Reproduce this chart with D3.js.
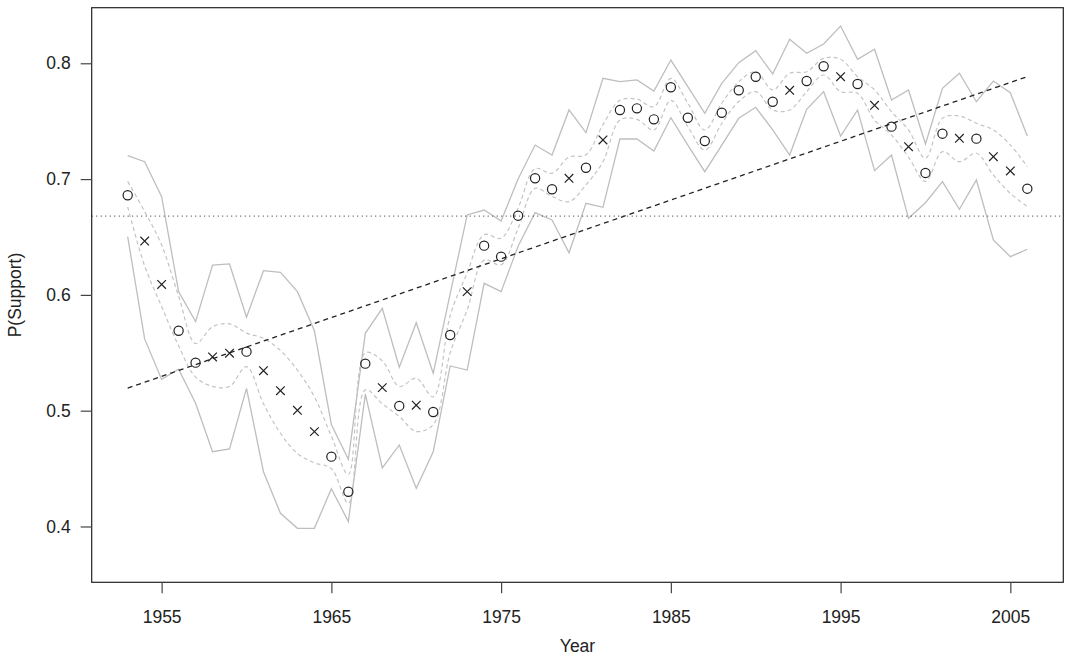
<!DOCTYPE html>
<html>
<head>
<meta charset="utf-8">
<script src="https://cdn.jsdelivr.net/npm/d3@7"></script>
<style>
  html, body { margin: 0; padding: 0; background: #fff; }
  svg { display: block; }
  text { font-family: "Liberation Sans", Arial, Helvetica, sans-serif; fill: #222; }
</style>
</head>
<body>
<svg id="chart" width="1067" height="655"></svg>
<script>
// Survey years
const years = [1953,1954,1955,1956,1957,1958,1959,1960,1961,1962,1963,1964,1965,1966,1967,1968,1969,1970,
  1971,1972,1973,1974,1975,1976,1977,1978,1979,1980,1981,1982,1983,1984,1985,1986,1987,1988,1989,1990,
  1991,1992,1993,1994,1995,1996,1997,1998,1999,2000,2001,2002,2003,2004,2005,2006];

// Point type per year: "o" = observed estimate, "x" = filled-in estimate
const marks = ["o","x","x","o","o","x","x","o","x","x","x","x","o","o","o","x","o","x",
  "o","o","x","o","o","o","o","o","x","o","x","o","o","o","o","o","o","o","o","o",
  "o","x","o","o","x","o","x","o","x","o","o","x","o","x","x","o"];

// Estimated probability of support
const support = [0.686,0.6465,0.609,0.569,0.5415,0.5464,0.5496,0.551,0.5345,0.5173,0.5003,0.4819,0.4603,0.430,
  0.5406,0.5199,0.5041,0.5047,0.4989,0.5654,0.6028,0.6425,0.633,0.6684,0.7007,0.6912,0.7007,0.7098,
  0.7338,0.7597,0.7611,0.7516,0.7793,0.753,0.7329,0.7573,0.7767,0.7884,0.7668,0.7767,0.7847,0.7974,
  0.7884,0.7821,0.7637,0.7453,0.728,0.7053,0.7392,0.7352,0.7349,0.7193,0.707,0.6917];

// Outer interval (solid grey)
const outerUpper = [0.7202,0.715,0.6848,0.6028,0.5769,0.6258,0.6267,0.5807,0.6209,0.6195,0.6028,0.569,0.488,0.458,
  0.5668,0.5884,0.5375,0.576,0.5323,0.601,0.669,0.6733,0.6638,0.700,0.7294,0.7208,0.7597,0.7401,
  0.787,0.7841,0.7856,0.776,0.8028,0.7798,0.7568,0.7827,0.8005,0.8109,0.7908,0.8207,0.8086,0.8167,
  0.8322,0.8035,0.8121,0.7683,0.7769,0.7303,0.7784,0.7914,0.7668,0.7847,0.7746,0.7372];
const outerLower = [0.6503,0.562,0.527,0.5358,0.5064,0.4646,0.4669,0.5193,0.4473,0.4114,0.3984,0.3984,0.4326,0.4042,
  0.5143,0.4505,0.4704,0.433,0.4646,0.5386,0.5351,0.610,0.6028,0.642,0.671,0.6647,0.6364,0.6791,
  0.6756,0.7346,0.7346,0.7243,0.753,0.7294,0.7064,0.7294,0.7525,0.762,0.7424,0.7208,0.7603,0.7755,
  0.7372,0.7597,0.7073,0.7208,0.6661,0.6796,0.6978,0.6739,0.6992,0.6474,0.633,0.6394];

// Inner interval (dashed grey)
const innerUpper = [0.698,0.672,0.643,0.599,0.558,0.5725,0.575,0.567,0.5625,0.552,0.535,0.512,0.478,0.445,
  0.550,0.543,0.521,0.528,0.512,0.582,0.619,0.652,0.649,0.675,0.709,0.705,0.719,0.721,
  0.747,0.768,0.769,0.7625,0.787,0.7655,0.7424,0.7655,0.784,0.7927,0.777,0.7914,0.7927,0.8043,
  0.8035,0.7884,0.777,0.7582,0.7424,0.718,0.7525,0.7545,0.7482,0.7424,0.7294,0.7107];
const innerLower = [0.676,0.625,0.59,0.556,0.529,0.521,0.521,0.538,0.506,0.4805,0.463,0.455,0.450,0.420,
  0.518,0.506,0.495,0.482,0.488,0.550,0.587,0.630,0.626,0.6575,0.692,0.685,0.6805,0.695,
  0.715,0.751,0.7516,0.7424,0.768,0.7453,0.7251,0.748,0.767,0.7755,0.7597,0.7597,0.7755,0.7899,
  0.7755,0.7741,0.751,0.738,0.719,0.698,0.7237,0.715,0.7223,0.7035,0.6877,0.6762];

// Linear trend endpoints (first and last year) and reference level
const trendYears = [1953, 2006];
const trendValues = [0.5195, 0.7885];
const referenceLevel = [0.668];

const xTicks = [1955,1965,1975,1985,1995,2005];
const yTicks = [0.4,0.5,0.6,0.7,0.8];

const svg = d3.select("#chart");
const plot = { left: 91.7, right: 1063.3, top: 7.7, bottom: 582.3 };

const x = d3.scaleLinear().domain([1950.88, 2008.12]).range([plot.left, plot.right]);
const y = d3.scaleLinear().domain([0.3518, 0.848]).range([plot.bottom, plot.top]);

const g = svg.append("g");

const rows = years.map((yr, i) => ({yr, i}));
const polyline = arr => d3.line().x(d => x(d.yr)).y(d => y(arr[d.i]))(rows);
const smooth = arr => d3.line().curve(d3.curveCatmullRom.alpha(0.5)).x(d => x(d.yr)).y(d => y(arr[d.i]))(rows);

// Outer band
[outerUpper, outerLower].forEach(arr => {
  g.append("path").attr("d", polyline(arr))
    .attr("fill", "none").attr("stroke", "#bebebe").attr("stroke-width", 1.3);
});

// Inner band
[innerUpper, innerLower].forEach(arr => {
  g.append("path").attr("d", smooth(arr))
    .attr("fill", "none").attr("stroke", "#c4c4c4").attr("stroke-width", 1.2)
    .attr("stroke-dasharray", "4,3");
});

// Reference level (dotted)
g.append("line")
  .attr("x1", plot.left).attr("x2", plot.right)
  .attr("y1", y(referenceLevel[0])).attr("y2", y(referenceLevel[0]))
  .attr("stroke", "#555").attr("stroke-width", 1.2).attr("stroke-dasharray", "1,3.5");

// Trend line (dashed)
g.append("line")
  .attr("x1", x(trendYears[0])).attr("x2", x(trendYears[1]))
  .attr("y1", y(trendValues[0])).attr("y2", y(trendValues[1]))
  .attr("stroke", "#222").attr("stroke-width", 1.3).attr("stroke-dasharray", "5,4");

// Points
rows.forEach(d => {
  const cx = x(d.yr), cy = y(support[d.i]);
  if (marks[d.i] === "o") {
    g.append("circle").attr("cx", cx).attr("cy", cy).attr("r", 4.6)
      .attr("fill", "none").attr("stroke", "#222").attr("stroke-width", 1.2);
  } else {
    const s = 4.3;
    g.append("path")
      .attr("d", `M${cx-s},${cy-s}L${cx+s},${cy+s}M${cx-s},${cy+s}L${cx+s},${cy-s}`)
      .attr("stroke", "#222").attr("stroke-width", 1.2).attr("fill", "none");
  }
});

// Frame
svg.append("rect").attr("x", plot.left).attr("y", plot.top)
  .attr("width", plot.right - plot.left).attr("height", plot.bottom - plot.top)
  .attr("fill", "none").attr("stroke", "#222").attr("stroke-width", 1.2);

// Axes
const xAxis = d3.axisBottom(x).tickValues(xTicks).tickFormat(d3.format("d")).tickSize(11).tickPadding(17.5);
const yAxis = d3.axisLeft(y).tickValues(yTicks).tickFormat(d3.format(".1f")).tickSize(11).tickPadding(10);

const gx = svg.append("g").attr("transform", `translate(0,${plot.bottom})`).call(xAxis);
const gy = svg.append("g").attr("transform", `translate(${plot.left},0)`).call(yAxis);
[gx, gy].forEach(a => {
  a.select(".domain").remove();
  a.selectAll(".tick line").attr("stroke", "#444").attr("stroke-width", 1.2);
  a.selectAll(".tick text").attr("font-size", 17.5).attr("fill", "#222")
    .attr("font-family", "'Liberation Sans', Arial, sans-serif");
});

svg.append("text").attr("x", (plot.left + plot.right) / 2).attr("y", 652)
  .attr("text-anchor", "middle").attr("font-size", 17.5).text("Year");
svg.append("text")
  .attr("transform", `translate(21,${(plot.top + plot.bottom) / 2}) rotate(-90)`)
  .attr("text-anchor", "middle").attr("font-size", 17.5).text("P(Support)");
</script>
</body>
</html>
